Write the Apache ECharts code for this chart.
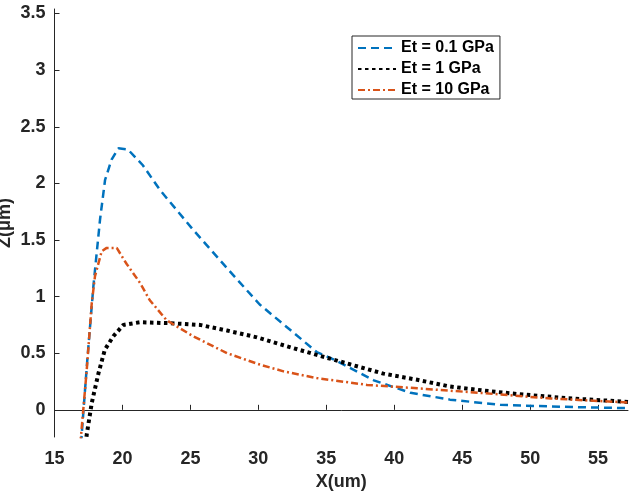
<!DOCTYPE html>
<html>
<head>
<meta charset="utf-8">
<script src="https://cdn.jsdelivr.net/npm/echarts@6/dist/echarts.min.js"></script>
<style>
    html, body { margin: 0; padding: 0; background: #fff; }
    #chart { width: 630px; height: 492px; }
</style>
</head>
<body>
<div id="chart"></div>
<script>
// Et = 0.1 GPa
const xSoft = [16.95, 17.4, 17.86, 18.35, 18.72, 19.2, 19.7, 20.4, 21.5, 22.77, 25.2, 27.7, 30.1, 32.6, 34.3, 35.8, 38.5, 41.2, 44.1, 47.8, 51.5, 54.0, 57.2];
const ySoft = [-0.3, 0.42, 1.09, 1.68, 2.03, 2.21, 2.31, 2.30, 2.16, 1.94, 1.59, 1.25, 0.93, 0.68, 0.51, 0.43, 0.26, 0.15, 0.09, 0.044, 0.03, 0.022, 0.015];

// Et = 1 GPa
const xMid = [17.3, 17.37, 17.74, 18.23, 18.7, 19.33, 20.07, 21.3, 23.5, 25.7, 27.7, 29.9, 31.85, 34.3, 36.8, 39.2, 41.7, 44.1, 46.6, 49.0, 52.7, 57.2];
const yMid = [-0.3, -0.22, 0.06, 0.32, 0.53, 0.65, 0.75, 0.774, 0.765, 0.75, 0.70, 0.64, 0.57, 0.485, 0.40, 0.32, 0.265, 0.206, 0.17, 0.14, 0.103, 0.07];

// Et = 10 GPa
const xHard = [16.9, 17.37, 17.74, 17.98, 18.47, 18.84, 19.58, 20.3, 21.3, 22.0, 23.26, 25.2, 27.7, 30.1, 31.85, 34.3, 38.0, 41.7, 46.6, 51.5, 57.2];
const yHard = [-0.3, 0.35, 0.94, 1.18, 1.40, 1.43, 1.43, 1.29, 1.12, 0.97, 0.79, 0.65, 0.50, 0.40, 0.34, 0.28, 0.22, 0.19, 0.147, 0.10, 0.065];

const seriesNames = ['Et = 0.1 GPa', 'Et = 1 GPa', 'Et = 10 GPa'];
const xTicks = [15, 20, 25, 30, 35, 40, 45, 50, 55];
const yTicks = [0, 0.5, 1, 1.5, 2, 2.5, 3, 3.5];

const pairs = (xs, ys) => xs.map((x, i) => [x, ys[i]]);

const font = "'Liberation Sans', Arial, sans-serif";
const axisColor = '#262626';

const chart = echarts.init(document.getElementById('chart'));

chart.setOption({
    animation: false,
    backgroundColor: '#fff',
    grid: { left: 54.5, right: 2, top: 9, bottom: 55, containLabel: false, outerBoundsMode: 'none' },
    legend: {
        orient: 'vertical',
        left: 352,
        top: 36,
        itemWidth: 38,
        itemHeight: 18,
        itemGap: 5,
        padding: [4, 6, 1, 5],
        borderColor: axisColor,
        borderWidth: 1,
        itemStyle: { opacity: 0 },
        textStyle: { fontFamily: font, fontWeight: 'bold', fontSize: 16, color: '#000' },
        data: seriesNames
    },
    xAxis: {
        type: 'value',
        min: 15,
        max: 57.2,
        name: 'X(um)',
        nameLocation: 'middle',
        nameGap: 36,
        nameMoveOverlap: false,
        nameTextStyle: { fontFamily: font, fontWeight: 'bold', fontSize: 18, color: axisColor },
        axisLine: { lineStyle: { color: axisColor, width: 1 } },
        axisTick: { inside: true, length: 5, customValues: xTicks, lineStyle: { color: axisColor } },
        axisLabel: { customValues: xTicks, margin: 13, fontFamily: font, fontWeight: 'bold', fontSize: 18, color: axisColor },
        splitLine: { show: false }
    },
    yAxis: {
        type: 'value',
        min: -0.24,
        max: 3.54,
        name: 'Z(\u03bcm)',
        nameLocation: 'middle',
        nameRotate: 90,
        nameGap: 40,
        nameMoveOverlap: false,
        nameTextStyle: { fontFamily: font, fontWeight: 'bold', fontSize: 18, color: axisColor },
        axisLine: { show: true, lineStyle: { color: axisColor, width: 1 } },
        axisTick: { show: true, inside: true, length: 5, customValues: yTicks, lineStyle: { color: axisColor } },
        axisLabel: { customValues: yTicks, margin: 9, fontFamily: font, fontWeight: 'bold', fontSize: 18, color: axisColor },
        splitLine: { show: false }
    },
    series: [
        {
            name: seriesNames[0],
            type: 'line',
            symbol: 'none',
            data: pairs(xSoft, ySoft),
            lineStyle: { color: '#0072BD', width: 2.5, type: [8, 5] },
            itemStyle: { color: '#0072BD' }
        },
        {
            name: seriesNames[1],
            type: 'line',
            symbol: 'none',
            data: pairs(xMid, yMid),
            lineStyle: { color: '#000000', width: 4, type: [3.5, 3.5] },
            itemStyle: { color: '#000000' }
        },
        {
            name: seriesNames[2],
            type: 'line',
            symbol: 'none',
            data: pairs(xHard, yHard),
            lineStyle: { color: '#D95319', width: 2.5, type: [7, 3, 2, 3] },
            itemStyle: { color: '#D95319' }
        }
    ]
});
</script>
</body>
</html>
